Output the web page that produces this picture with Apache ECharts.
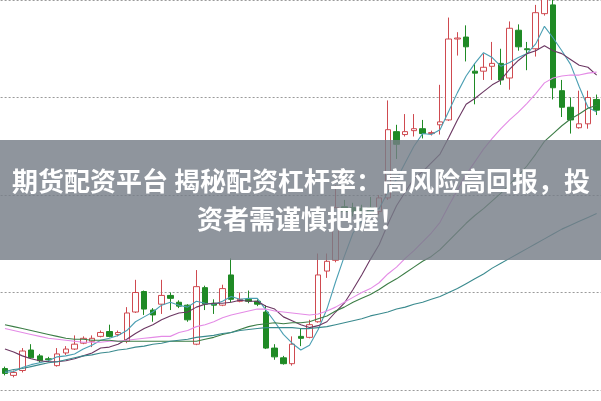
<!DOCTYPE html>
<html><head><meta charset="utf-8">
<script src="https://cdn.jsdelivr.net/npm/echarts@6/dist/echarts.min.js"></script>
<style>html,body{margin:0;padding:0;background:#fff}#c{width:601px;height:401px}</style>
</head><body><div id="c"></div>
<script>
const days = Array.from({length:69},(_,i)=>'D'+(i+1));
const opens  = [10.22,10.15,10.20,10.41,10.35,10.32,10.25,10.38,10.42,10.48,10.50,10.55,10.60,10.57,10.50,10.80,11.01,10.82,10.88,10.97,10.90,10.87,10.47,11.05,10.89,10.87,11.18,10.91,10.93,10.91,10.80,10.43,10.33,10.27,10.55,10.54,10.70,11.22,11.33,11.88,11.87,11.86,11.87,11.83,11.97,12.65,12.62,12.66,12.68,12.63,12.72,12.77,13.60,13.62,13.27,13.27,13.32,13.35,13.20,13.69,13.50,13.50,13.86,13.95,13.07,12.90,12.69,12.73,12.98];
const closes = [10.17,10.18,10.40,10.33,10.30,10.31,10.37,10.42,10.47,10.53,10.53,10.59,10.55,10.59,10.79,11.00,10.83,10.77,10.97,10.94,10.86,10.72,11.06,10.88,10.87,11.04,10.93,10.93,10.91,10.88,10.43,10.34,10.27,10.47,10.53,10.67,11.18,11.32,11.87,11.83,11.83,11.84,11.82,11.97,12.67,12.52,12.65,12.68,12.63,12.64,12.75,13.60,13.61,13.52,13.25,13.31,13.35,13.18,13.71,13.52,13.49,13.87,14.05,13.10,12.90,12.77,12.73,13.00,12.87];
const lows   = [10.15,10.13,10.18,10.32,10.28,10.29,10.24,10.36,10.41,10.47,10.44,10.54,10.54,10.55,10.48,10.79,10.77,10.70,10.78,10.82,10.84,10.70,10.46,10.82,10.78,10.86,10.90,10.90,10.89,10.86,10.42,10.31,10.26,10.25,10.45,10.53,10.69,11.15,11.31,11.75,11.78,11.80,11.80,11.80,11.95,12.37,12.60,12.60,12.58,12.61,12.62,12.76,13.43,13.37,12.93,13.18,13.18,13.13,13.08,13.48,13.28,13.42,13.84,12.98,12.80,12.63,12.68,12.68,12.82];
const highs  = [10.24,10.20,10.43,10.47,10.37,10.34,10.43,10.45,10.56,10.55,10.56,10.61,10.67,10.61,10.85,11.13,11.02,10.84,11.13,11.00,10.92,10.88,11.23,11.07,10.93,11.08,11.35,11.00,11.02,10.93,10.87,10.47,10.35,10.55,10.63,10.72,11.40,11.40,12.10,11.95,11.92,11.90,11.98,12.00,12.97,12.72,12.83,12.83,12.77,12.66,13.13,13.82,13.67,13.74,13.35,13.45,13.57,13.50,13.78,13.75,13.57,13.95,14.15,14.00,13.18,13.00,13.07,13.07,13.03];
const ma5  = [10.18,10.19,10.23,10.26,10.28,10.30,10.34,10.35,10.37,10.42,10.46,10.51,10.53,10.56,10.61,10.70,10.75,10.80,10.87,10.90,10.87,10.85,10.91,10.89,10.88,10.91,10.96,10.93,10.94,10.94,10.82,10.70,10.57,10.48,10.41,10.46,10.62,10.83,11.11,11.37,11.61,11.74,11.84,11.86,12.03,12.16,12.33,12.50,12.63,12.62,12.67,12.86,13.05,13.22,13.35,13.46,13.41,13.32,13.36,13.41,13.45,13.55,13.73,13.61,13.48,13.34,13.11,12.90,12.85];
const ma10 = [10.42,10.39,10.35,10.32,10.30,10.29,10.29,10.30,10.32,10.35,10.38,10.43,10.44,10.47,10.52,10.58,10.63,10.67,10.72,10.76,10.79,10.80,10.85,10.88,10.89,10.89,10.90,10.92,10.91,10.91,10.86,10.83,10.75,10.71,10.67,10.64,10.66,10.70,10.80,10.89,11.03,11.18,11.34,11.49,11.70,11.89,12.03,12.17,12.24,12.33,12.42,12.59,12.77,12.93,12.99,13.06,13.13,13.18,13.29,13.38,13.45,13.48,13.53,13.48,13.45,13.39,13.33,13.31,13.23];
const ma20 = [10.63,10.61,10.59,10.57,10.55,10.53,10.52,10.51,10.50,10.49,10.49,10.49,10.50,10.50,10.51,10.52,10.53,10.54,10.55,10.55,10.59,10.61,10.65,10.67,10.70,10.74,10.77,10.79,10.81,10.83,10.83,10.81,10.80,10.79,10.78,10.77,10.78,10.81,10.85,10.90,10.95,11.00,11.04,11.10,11.19,11.26,11.35,11.43,11.52,11.61,11.72,11.89,12.05,12.21,12.34,12.47,12.58,12.68,12.77,12.85,12.94,13.04,13.15,13.20,13.22,13.23,13.23,13.25,13.26];
const ma30 = [10.67,10.65,10.63,10.61,10.59,10.57,10.55,10.53,10.52,10.52,10.51,10.51,10.51,10.50,10.50,10.50,10.50,10.50,10.50,10.50,10.50,10.50,10.50,10.52,10.54,10.57,10.59,10.62,10.65,10.67,10.68,10.69,10.68,10.69,10.69,10.70,10.73,10.76,10.81,10.85,10.90,10.94,10.98,11.03,11.09,11.14,11.20,11.26,11.32,11.37,11.44,11.53,11.62,11.71,11.79,11.86,11.94,12.02,12.11,12.20,12.30,12.42,12.55,12.63,12.71,12.78,12.83,12.89,12.92];
const ma60 = [10.19,10.21,10.22,10.24,10.26,10.28,10.29,10.31,10.33,10.35,10.36,10.38,10.39,10.41,10.42,10.44,10.45,10.47,10.48,10.50,10.51,10.52,10.54,10.55,10.56,10.58,10.59,10.61,10.62,10.63,10.64,10.64,10.64,10.64,10.63,10.63,10.64,10.65,10.67,10.69,10.71,10.73,10.76,10.78,10.80,10.83,10.85,10.88,10.90,10.93,10.96,11.00,11.04,11.09,11.14,11.19,11.25,11.30,11.35,11.40,11.45,11.50,11.55,11.60,11.65,11.69,11.73,11.77,11.81];
const yTicks = [10, 11, 12, 13, 14];
const titleLine1 = '期货配资平台 揭秘配资杠杆率：高风险高回报，投';
const titleLine2 = '资者需谨慎把握！';

const kdata = opens.map((o,i)=>[o, closes[i], lows[i], highs[i]]);
const chart = echarts.init(document.getElementById('c'), null, {renderer:'canvas'});
const lineS = (name, data, color) => ({name, type:'line', data, symbol:'none', smooth:false, clip:false,
  lineStyle:{width:1.1, color}, itemStyle:{color}, z:3, silent:true});
chart.setOption({
  animation:false,
  backgroundColor:'#ffffff',
  grid:{left:0.6, top:-10, width:603.75, height:400, containLabel:false},
  xAxis:{type:'category', data:days, boundaryGap:true, axisLine:{show:false}, axisTick:{show:false}, axisLabel:{show:false}, splitLine:{show:false}},
  yAxis:{type:'value', min:yTicks[0], max:yTicks[yTicks.length-1], interval:1, axisLine:{show:false}, axisTick:{show:false}, axisLabel:{show:false},
    splitLine:{show:true, lineStyle:{type:[2,2], color:'#9a9a9a', width:1}}},
  series:[
    {type:'candlestick', data:kdata, barWidth:6, clip:false, z:2,
      itemStyle:{color:'#ffffff', color0:'#1f8a25', borderColor:'#cf4a50', borderColor0:'#1f8a25', borderWidth:1}},
    lineS('MA5', ma5, '#4b9fb3'),
    lineS('MA10', ma10, '#6b3762'),
    lineS('MA20', ma20, '#e48be6'),
    lineS('MA30', ma30, '#3c7d46'),
    lineS('MA60', ma60, '#3a8a8e')
  ],
  graphic:[
    {type:'rect', left:0, top:140, z:100, shape:{width:601, height:120}, style:{fill:'rgba(118,126,136,0.82)'}},
    {type:'text', x:301, y:181, z:101, style:{text:titleLine1, fill:'#ffffff', font:'bold 26px "Noto Sans CJK SC"', align:'center', verticalAlign:'middle', textAlign:'center', textVerticalAlign:'middle'}},
    {type:'text', x:301, y:219, z:101, style:{text:titleLine2, fill:'#ffffff', font:'bold 26px "Noto Sans CJK SC"', align:'center', verticalAlign:'middle', textAlign:'center', textVerticalAlign:'middle'}}
  ]
});
</script></body></html>
